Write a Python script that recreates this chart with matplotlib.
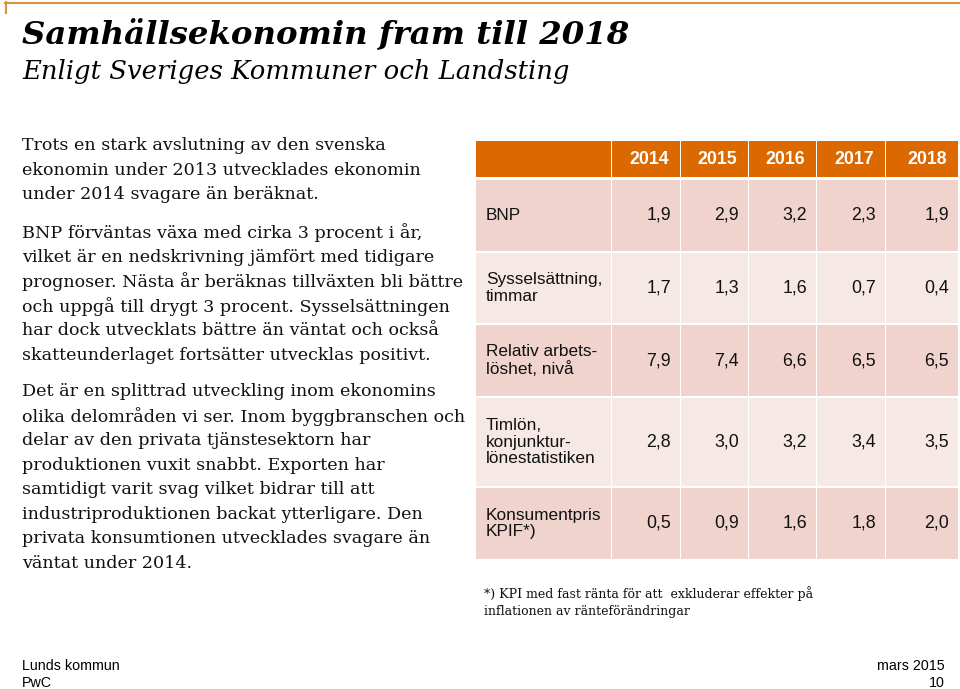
import matplotlib.pyplot as plt
from matplotlib.patches import Rectangle

# table data
years = ["2014", "2015", "2016", "2017", "2018"]
row_labels = [
    "BNP",
    "Sysselsättning,\ntimmar",
    "Relativ arbets-\nlöshet, nivå",
    "Timlön,\nkonjunktur-\nlönestatistiken",
    "Konsumentpris\nKPIF*)",
]
bnp = [1.9, 2.9, 3.2, 2.3, 1.9]
sysselsattning = [1.7, 1.3, 1.6, 0.7, 0.4]
arbetsloshet = [7.9, 7.4, 6.6, 6.5, 6.5]
timlon = [2.8, 3.0, 3.2, 3.4, 3.5]
kpif = [0.5, 0.9, 1.6, 1.8, 2.0]
rows = [bnp, sysselsattning, arbetsloshet, timlon, kpif]

title = "Samhällsekonomin fram till 2018"
subtitle = "Enligt Sveriges Kommuner och Landsting"
paragraphs = [
    ["Trots en stark avslutning av den svenska",
     "ekonomin under 2013 utvecklades ekonomin",
     "under 2014 svagare än beräknat."],
    ["BNP förväntas växa med cirka 3 procent i år,",
     "vilket är en nedskrivning jämfört med tidigare",
     "prognoser. Nästa år beräknas tillväxten bli bättre",
     "och uppgå till drygt 3 procent. Sysselsättningen",
     "har dock utvecklats bättre än väntat och också",
     "skatteunderlaget fortsätter utvecklas positivt."],
    ["Det är en splittrad utveckling inom ekonomins",
     "olika delområden vi ser. Inom byggbranschen och",
     "delar av den privata tjänstesektorn har",
     "produktionen vuxit snabbt. Exporten har",
     "samtidigt varit svag vilket bidrar till att",
     "industriproduktionen backat ytterligare. Den",
     "privata konsumtionen utvecklades svagare än",
     "väntat under 2014."],
]
footnote = "*) KPI med fast ränta för att  exkluderar effekter på\ninflationen av ränteförändringar"

ORANGE = "#DC6900"
DARK = "#EFD3CC"
LIGHT = "#F6E8E5"
SERIF = "DejaVu Serif"
SANS = "Liberation Sans"

fig = plt.figure(figsize=(9.6, 6.89), dpi=100)
ax = fig.add_axes([0, 0, 1, 1])
ax.set_xlim(0, 960)
ax.set_ylim(689, 0)
ax.axis("off")

# top rule
ax.plot([5, 960], [2.5, 2.5], color="#E0913F", lw=1.5)
ax.plot([5.5, 5.5], [2, 13], color="#E0913F", lw=1.5)

ax.text(22, 34, title, fontsize=23.3, fontweight="bold", fontstyle="italic",
        family=SERIF, va="center", ha="left")
ax.text(22, 72, subtitle, fontsize=18.6, fontstyle="italic", family=SERIF,
        va="center", ha="left")

# body text
para_starts = [146, 233, 392]
for start, lines in zip(para_starts, paragraphs):
    for i, line in enumerate(lines):
        ax.text(22, start + i * 24.45, line, fontsize=12.6, family=SERIF,
                va="center", ha="left", color="#111111")

# table geometry
col_edges = [476, 612, 681, 749, 817, 886, 959]
row_tops = [141, 180, 253, 325, 398, 488]
row_bots = [177, 251, 323, 396, 486, 559]
gap = 1

for r in range(len(row_tops)):
    top, bot = row_tops[r], row_bots[r]
    if r == 0:
        color = ORANGE
    else:
        color = DARK if r % 2 == 1 else LIGHT
    for c in range(len(col_edges) - 1):
        x0 = col_edges[c]
        x1 = col_edges[c + 1] - gap
        ax.add_patch(Rectangle((x0, top), x1 - x0, bot - top,
                               facecolor=color, edgecolor="none"))

# header
for c, yr in enumerate(years):
    ax.text(col_edges[c + 2] - 12, (row_tops[0] + row_bots[0]) / 2, yr,
            fontsize=12.8, fontweight="bold", color="white", family=SANS,
            ha="right", va="center")

# rows
for r, (label, vals) in enumerate(zip(row_labels, rows)):
    yc = (row_tops[r + 1] + row_bots[r + 1]) / 2
    ax.text(486, yc, label, fontsize=12.4, family=SANS, ha="left",
            va="center", linespacing=1.1, color="#111111")
    for c, v in enumerate(vals):
        ax.text(col_edges[c + 2] - 10, yc, f"{v:.1f}".replace(".", ","),
                fontsize=12.8, family=SANS, ha="right", va="center",
                color="#111111")

ax.text(484, 602, footnote, fontsize=9, family=SERIF, ha="left",
        va="center", linespacing=1.35, color="#111111")

# footer
ax.text(22, 666, "Lunds kommun", fontsize=10.3, family=SANS, ha="left", va="center")
ax.text(22, 683, "PwC", fontsize=10.3, family=SANS, ha="left", va="center")
ax.text(945, 666, "mars 2015", fontsize=10.3, family=SANS, ha="right", va="center")
ax.text(945, 683, "10", fontsize=10.3, family=SANS, ha="right", va="center")

fig.savefig("out.png", dpi=100)
